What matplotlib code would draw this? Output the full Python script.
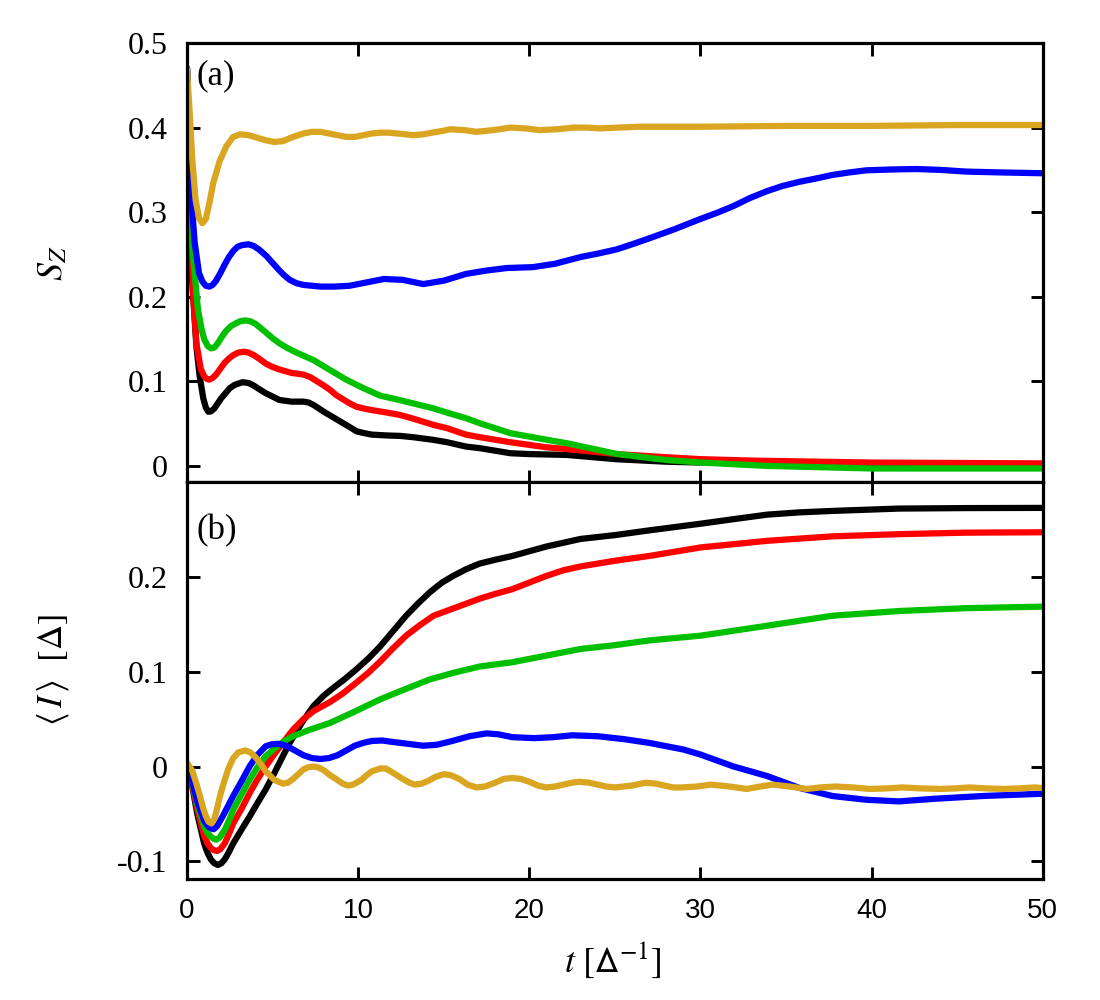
import matplotlib
matplotlib.use("Agg")
import matplotlib.pyplot as plt
from matplotlib.ticker import FuncFormatter

plt.rcParams['mathtext.fontset'] = 'stix'
plt.rcParams['axes.unicode_minus'] = False

# ---------------- panel (a): S_Z ----------------
t_gold_a = [0, 0.15, 0.31, 0.5, 0.7, 0.9, 1.1, 1.3, 1.54, 1.9, 2.3, 2.7, 3.1, 3.6, 4.1, 4.6, 5.1, 5.6, 6.2,
            6.8, 7.3, 7.8, 8.3, 8.8, 9.3, 9.8, 10.3, 10.8, 11.3, 11.8, 12.3, 12.8, 13.2, 13.8, 14.3, 14.9,
            15.4, 16.2, 16.9, 17.9, 18.9, 19.8, 20.6, 21.6, 22.6, 23.4, 24.1, 25.2, 26.4, 30, 35, 40, 45, 50]
s_gold_a = [0.469, 0.42, 0.362, 0.315, 0.293, 0.287, 0.292, 0.310, 0.335, 0.360, 0.378, 0.389, 0.392, 0.391,
            0.388, 0.385, 0.383, 0.384, 0.389, 0.393, 0.395, 0.395, 0.393, 0.391, 0.389, 0.389, 0.391, 0.393,
            0.394, 0.394, 0.393, 0.392, 0.391, 0.392, 0.394, 0.396, 0.398, 0.397, 0.395, 0.397, 0.400, 0.399,
            0.397, 0.398, 0.400, 0.400, 0.399, 0.400, 0.401, 0.401, 0.402, 0.402, 0.403, 0.403]

t_blue_a = [0, 0.2, 0.45, 0.7, 0.9, 1.1, 1.3, 1.5, 1.7, 1.95, 2.2, 2.45, 2.7, 2.95, 3.2, 3.6, 3.9, 4.2, 4.65,
            5.0, 5.4, 5.7, 6.0, 6.4, 6.8, 7.3, 7.8, 8.6, 9.5, 10.5, 11.5, 12.6, 13.8, 15.0, 16.3, 17.5, 18.7,
            20.2, 21.5, 23.0, 24.0, 25.1, 26.0, 27.0, 28.5, 30.0, 31.0, 31.9, 32.9, 33.9, 34.8, 35.8, 36.8,
            37.7, 38.7, 39.7, 41.2, 42.6, 44.0, 45.5, 47.5, 50]
s_blue_a = [0.47, 0.33, 0.264, 0.228, 0.218, 0.213, 0.212, 0.214, 0.219, 0.228, 0.238, 0.247, 0.254, 0.259,
            0.261, 0.262, 0.260, 0.256, 0.248, 0.240, 0.231, 0.225, 0.220, 0.216, 0.214, 0.213, 0.212, 0.212,
            0.213, 0.217, 0.221, 0.220, 0.215, 0.219, 0.227, 0.231, 0.234, 0.235, 0.239, 0.247, 0.251, 0.256,
            0.262, 0.269, 0.280, 0.292, 0.2995, 0.307, 0.3168, 0.325, 0.331, 0.336, 0.340, 0.344, 0.347,
            0.3495, 0.3505, 0.351, 0.350, 0.348, 0.347, 0.346]

t_green_a = [0, 0.3, 0.64, 0.85, 1.0, 1.2, 1.4, 1.6, 1.8, 2.05, 2.3, 2.55, 2.8, 3.1, 3.4, 3.7, 4.0, 4.3, 4.6,
             5.0, 5.4, 5.9, 6.4, 7.4, 8.3, 9.3, 10.3, 11.3, 12.4, 13.2, 14.4, 15.2, 16.3, 17.1, 18.9, 21, 22.2,
             25.1, 28, 30, 33.9, 40, 50]
s_green_a = [0.47, 0.26, 0.185, 0.162, 0.150, 0.142, 0.139, 0.140, 0.145, 0.153, 0.160, 0.165, 0.168, 0.171,
             0.172, 0.171, 0.168, 0.163, 0.158, 0.151, 0.145, 0.139, 0.134, 0.125, 0.114, 0.102, 0.092, 0.083,
             0.078, 0.074, 0.068, 0.063, 0.0564, 0.0505, 0.0387, 0.031, 0.0268, 0.0142, 0.007, 0.004, 0.000,
             -0.003, -0.003]

t_red_a = [0, 0.35, 0.55, 0.8, 1.0, 1.15, 1.3, 1.5, 1.7, 1.95, 2.2, 2.45, 2.7, 3.0, 3.3, 3.6, 3.9, 4.2, 4.6,
           5.0, 5.4, 6.1, 6.8, 7.2, 7.6, 8.0, 8.35, 8.7, 9.1, 9.5, 9.9, 10.3, 10.8, 11.7, 12.44, 13.2, 14.4,
           15.2, 16.3, 17.1, 18.9, 21, 22.2, 25.1, 28, 30, 33, 40, 50]
s_red_a = [0.47, 0.205, 0.145, 0.115, 0.106, 0.103, 0.102, 0.104, 0.108, 0.115, 0.122, 0.127, 0.131, 0.134,
           0.135, 0.134, 0.131, 0.127, 0.121, 0.117, 0.114, 0.110, 0.108, 0.105, 0.100, 0.095, 0.090, 0.084,
           0.079, 0.074, 0.070, 0.068, 0.066, 0.063, 0.0603, 0.056, 0.0485, 0.0446, 0.037, 0.034, 0.028,
           0.022, 0.020, 0.014, 0.0103, 0.008, 0.0063, 0.004, 0.003]

t_black_a = [0, 0.3, 0.55, 0.74, 0.95, 1.1, 1.25, 1.4, 1.6, 1.8, 2.0, 2.25, 2.5, 2.8, 3.25, 3.6, 3.9, 4.2, 4.6,
             5.0, 5.4, 6.1, 6.8, 7.1, 7.4, 7.7, 8.0, 8.5, 9.0, 9.5, 9.9, 10.3, 10.8, 11.7, 12.44, 13.2, 14.4,
             15.2, 16.3, 17.1, 18.9, 20, 22.2, 25.1, 28, 30, 35, 40, 50]
s_black_a = [0.47, 0.22, 0.141, 0.106, 0.080, 0.069, 0.064, 0.0645, 0.068, 0.074, 0.080, 0.086, 0.092, 0.096,
             0.099, 0.098, 0.095, 0.091, 0.086, 0.082, 0.078, 0.076, 0.076, 0.075, 0.072, 0.068, 0.064, 0.058,
             0.052, 0.046, 0.041, 0.039, 0.037, 0.036, 0.0355, 0.034, 0.0308, 0.028, 0.0229, 0.021, 0.015,
             0.014, 0.013, 0.0079, 0.005, 0.004, 0.003, 0.002, 0.001]

# ---------------- panel (b): <I> ----------------
t_black_b = [0, 0.3, 0.6, 1.0, 1.2, 1.4, 1.6, 1.81, 2.0, 2.2, 2.45, 2.7, 3.2, 3.66, 4.1, 4.6, 5.1, 5.6, 6.0,
             6.7, 7.4, 8.0, 8.55, 9.2, 9.9, 10.6, 11.3, 12.0, 12.8, 13.5, 14.2, 14.9, 15.55, 16.3, 17.1, 18,
             19, 20, 21, 22, 23, 24, 25, 27, 30, 32, 33.9, 35.8, 37.7, 41.6, 45.5, 50]
i_black_b = [0, -0.02, -0.050, -0.081, -0.091, -0.098, -0.102, -0.1037, -0.102, -0.098, -0.090, -0.081,
             -0.066, -0.0526, -0.039, -0.024, -0.007, 0.011, 0.025, 0.046, 0.064, 0.075, 0.083, 0.092, 0.1026,
             0.114, 0.127, 0.142, 0.159, 0.172, 0.184, 0.194, 0.201, 0.208, 0.214, 0.218, 0.222, 0.227,
             0.232, 0.236, 0.240, 0.242, 0.244, 0.249, 0.256, 0.261, 0.2656, 0.268, 0.2695, 0.272, 0.2725,
             0.2727]

t_red_b = [0, 0.3, 0.6, 1.0, 1.2, 1.4, 1.55, 1.75, 1.95, 2.2, 2.45, 2.7, 3.2, 3.66, 4.1, 4.6, 5.1, 5.6, 6.2,
           6.8, 7.4, 8.35, 9.1, 9.9, 10.6, 11.3, 12.0, 12.8, 13.6, 14.4, 15.3, 16.2, 17.1, 18, 19, 20, 21, 22,
           23, 25, 27, 30, 33.9, 37.7, 41.6, 45.5, 50]
i_red_b = [0, -0.018, -0.045, -0.073, -0.081, -0.086, -0.088, -0.089, -0.087, -0.081, -0.071, -0.060,
           -0.044, -0.028, -0.014, 0.0003, 0.013, 0.025, 0.039, 0.050, 0.0586, 0.068, 0.077, 0.0885, 0.099,
           0.111, 0.124, 0.138, 0.149, 0.159, 0.165, 0.171, 0.177, 0.182, 0.187, 0.194, 0.201, 0.207, 0.211,
           0.217, 0.222, 0.231, 0.238, 0.2427, 0.245, 0.2466, 0.247]

t_green_b = [0, 0.3, 0.6, 1.0, 1.2, 1.4, 1.55, 1.71, 1.9, 2.2, 2.45, 2.7, 3.2, 3.66, 4.1, 4.6, 5.05, 5.6, 6.2,
             7.2, 8.35, 9.8, 11.3, 12.8, 14.2, 15.6, 17.1, 19, 21, 23, 25, 27, 30, 33.9, 37.7, 41.6, 45.5, 50]
i_green_b = [0, -0.016, -0.040, -0.063, -0.070, -0.074, -0.076, -0.077, -0.075, -0.067, -0.057, -0.0455,
             -0.029, -0.0138, -0.001, 0.011, 0.018, 0.026, 0.032, 0.039, 0.046, 0.058, 0.071, 0.082, 0.092,
             0.099, 0.1055, 0.110, 0.117, 0.124, 0.128, 0.133, 0.138, 0.1485, 0.159, 0.164, 0.167, 0.1686]

t_blue_b = [0, 0.3, 0.6, 1.0, 1.15, 1.3, 1.45, 1.56, 1.75, 2.1, 2.7, 3.2, 3.66, 4.1, 4.6, 4.95, 5.3, 5.6, 5.9,
            6.3, 6.8, 7.3, 7.8, 8.3, 8.8, 9.3, 9.8, 10.3, 10.8, 11.4, 12.0, 12.9, 13.8, 14.6, 15.5, 16.5,
            17.5, 18.2, 19, 20.3, 21.4, 22.5, 24, 25.5, 27, 29, 30, 31.9, 33.9, 35.8, 37.7, 39.7, 41.6, 43.6,
            46.5, 50]
i_blue_b = [0, -0.015, -0.037, -0.057, -0.061, -0.064, -0.0655, -0.066, -0.063, -0.052, -0.031, -0.015,
            0.0003, 0.012, 0.0215, 0.0235, 0.024, 0.023, 0.021, 0.017, 0.012, 0.009, 0.008, 0.009, 0.012,
            0.017, 0.022, 0.025, 0.027, 0.0275, 0.026, 0.024, 0.022, 0.023, 0.027, 0.032, 0.035, 0.034,
            0.031, 0.030, 0.031, 0.033, 0.032, 0.029, 0.025, 0.018, 0.0127, 0.0003, -0.010, -0.0226, -0.031,
            -0.035, -0.0367, -0.034, -0.031, -0.0286]

t_gold_b = [0, 0.3, 0.55, 0.74, 0.95, 1.1, 1.25, 1.42, 1.6, 1.75, 1.9, 2.1, 2.4, 2.7, 3.0, 3.4, 3.7, 4.0, 4.3,
            4.6, 5.1, 5.6, 5.9, 6.2, 6.5, 6.8, 7.1, 7.4, 7.7, 8.0, 8.35, 8.7, 9.1, 9.4, 9.7, 10.2, 10.5, 10.8,
            11.3, 11.6, 11.9, 12.6, 13.0, 13.3, 13.7, 14.1, 14.5, 15.0, 15.4, 15.9, 16.4, 16.9, 17.4, 18.0,
            18.5, 19.0, 19.5, 20.0, 20.5, 21.0, 21.5, 22.0, 22.5, 22.9, 23.5, 24.0, 24.5, 25.0, 25.5, 26.0,
            26.8, 27.4, 27.9, 28.4, 28.9, 29.8, 30.6, 31.7, 32.7, 33.5, 34.2, 35.2, 36.2, 37.0, 37.9, 38.9,
            39.9, 40.9, 41.8, 42.9, 44.0, 44.9, 45.7, 46.7, 47.7, 48.6, 49.5, 50]
i_gold_b = [0.004, -0.004, -0.018, -0.030, -0.044, -0.052, -0.058, -0.060, -0.055, -0.045, -0.033, -0.020,
            -0.003, 0.009, 0.015, 0.017, 0.015, 0.010, 0.003, -0.005, -0.014, -0.018, -0.017, -0.013, -0.008,
            -0.003, -0.0005, 0.000, -0.001, -0.004, -0.009, -0.013, -0.018, -0.020, -0.019, -0.014, -0.009,
            -0.005, -0.002, -0.002, -0.005, -0.013, -0.017, -0.019, -0.018, -0.015, -0.011, -0.008, -0.009,
            -0.013, -0.019, -0.022, -0.021, -0.017, -0.013, -0.012, -0.013, -0.016, -0.020, -0.022, -0.021,
            -0.019, -0.017, -0.016, -0.017, -0.019, -0.021, -0.022, -0.021, -0.020, -0.017, -0.018, -0.020,
            -0.022, -0.022, -0.021, -0.019, -0.021, -0.0236, -0.021, -0.019, -0.021, -0.0236, -0.022, -0.021,
            -0.022, -0.0236, -0.023, -0.022, -0.023, -0.0236, -0.023, -0.022, -0.023, -0.0236, -0.023, -0.022,
            -0.0226]

x_ticks = [0, 10, 20, 30, 40, 50]
y_ticks_a = [0, 0.1, 0.2, 0.3, 0.4, 0.5]
y_ticks_b = [-0.1, 0, 0.1, 0.2]

colors = {'black': '#000000', 'red': '#ff0000', 'green': '#00c000', 'blue': '#0000ff', 'gold': '#daa520'}
LW = 4.5

fig = plt.figure(figsize=(11, 10), dpi=100)
ax1 = fig.add_axes([0.17, 0.518, 0.778, 0.439])
ax2 = fig.add_axes([0.17, 0.121, 0.778, 0.397])

kw = dict(lw=LW, solid_joinstyle='round', solid_capstyle='round')
ax1.plot(t_black_a, s_black_a, color=colors['black'], **kw)
ax1.plot(t_red_a, s_red_a, color=colors['red'], **kw)
ax1.plot(t_green_a, s_green_a, color=colors['green'], **kw)
ax1.plot(t_blue_a, s_blue_a, color=colors['blue'], **kw)
ax1.plot(t_gold_a, s_gold_a, color=colors['gold'], **kw)

ax2.plot(t_black_b, i_black_b, color=colors['black'], **kw)
ax2.plot(t_red_b, i_red_b, color=colors['red'], **kw)
ax2.plot(t_green_b, i_green_b, color=colors['green'], **kw)
ax2.plot(t_blue_b, i_blue_b, color=colors['blue'], **kw)
ax2.plot(t_gold_b, i_gold_b, color=colors['gold'], **kw)

fmt = FuncFormatter(lambda v, p: ('%g' % round(v, 3)))
for ax in (ax1, ax2):
    ax.set_xlim(0, 50)
    ax.set_xticks(x_ticks)
    for s in ax.spines.values():
        s.set_linewidth(2.3)
        s.set_zorder(5)
    ax.tick_params(direction='in', length=9, width=2.1, top=True, right=True)
    ax.yaxis.set_major_formatter(fmt)
    ax.tick_params(axis='y', labelsize=23, pad=14)

ax1.set_ylim(-0.019, 0.5)
ax1.set_yticks(y_ticks_a)
ax1.tick_params(axis='x', labelbottom=False)
ax2.set_ylim(-0.1185, 0.30)
ax2.set_yticks(y_ticks_b)
ax2.tick_params(axis='x', labelsize=20, pad=14)
for ax in (ax1, ax2):
    for lab in ax.get_yticklabels():
        lab.set_fontfamily('Liberation Serif')
for lab in ax2.get_xticklabels():
    lab.set_fontfamily('Liberation Sans')

ax1.text(0.011, 0.925, '(a)', transform=ax1.transAxes, fontsize=25, family='Liberation Serif',
         ha='left', va='center')
ax2.text(0.011, 0.878, '(b)', transform=ax2.transAxes, fontsize=25, family='Liberation Serif',
         ha='left', va='center')

fig.text(52 / 1100, 1 - 263 / 1000, r'$S_Z$', rotation=90, ha='center', va='center', fontsize=26)
fig.text(53 / 1100, 1 - 670 / 1000, r'$\langle\, I\, \rangle\ \ [\mathrm{\Delta}]$', rotation=90,
         ha='center', va='center', fontsize=25)
fig.text(613 / 1100, 1 - 960 / 1000, r'$t\ [\mathsf{\Delta}^{\mathrm{-1}}]$', ha='center', va='center',
         fontsize=26)

fig.savefig('out.png', dpi=100)
